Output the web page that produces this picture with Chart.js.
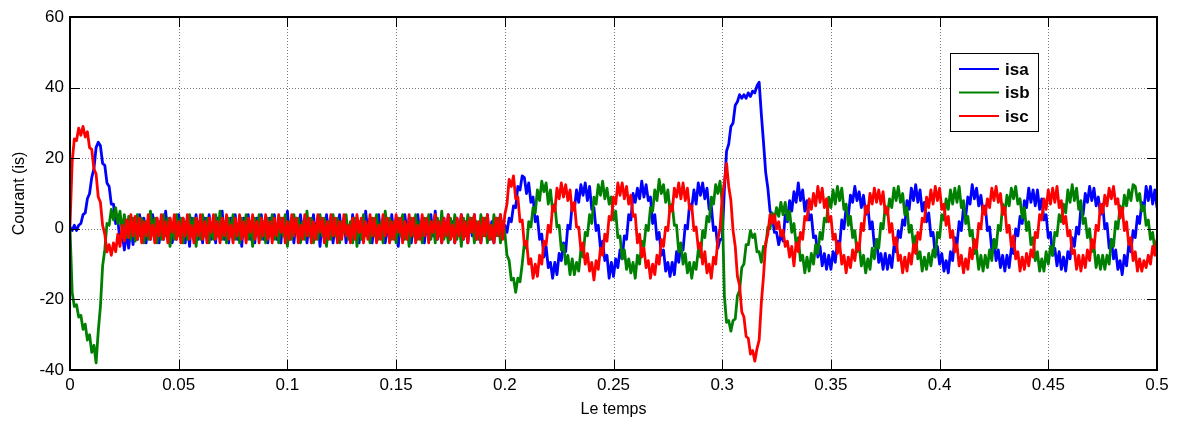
<!DOCTYPE html>
<html>
<head>
<meta charset="utf-8">
<title>Courants de source isa, isb, isc</title>
<script src="https://cdn.jsdelivr.net/npm/chart.js@4/dist/chart.umd.min.js"></script>
<style>
  html, body { margin: 0; padding: 0; background: #ffffff; }
  #chart { display: block; }
</style>
</head>
<body>
<canvas id="chart" width="1177" height="421"></canvas>
<script>
// Sampling period of the three current records (seconds)
const timeStep = 0.001;

const seriesNames = ['isa', 'isb', 'isc'];
const seriesColors = ['#0000ff', '#008000', '#ff0000'];

const xTickValues = [0, 0.05, 0.1, 0.15, 0.2, 0.25, 0.3, 0.35, 0.4, 0.45, 0.5];
const xTickLabels = ['0', '0.05', '0.1', '0.15', '0.2', '0.25', '0.3', '0.35', '0.4', '0.45', '0.5'];
const yTickValues = [-40, -20, 0, 20, 40, 60];
const yTickLabels = ['-40', '-20', '0', '20', '40', '60'];

const xTitle = 'Le temps';
const yTitle = 'Courant (is)';

// Phase a current, one value per millisecond from 0 to 0.5 s
const isa = [
  0.5, -0.5, 1, -0.5, 1, 1.5, 4, 4.5, 8.5, 10,
  14.5, 17, 23, 24.5, 23.5, 18.5, 18, 13, 12, 7,
  7, 1.5, 2.5, -3.5, -1, -6, -1, -5.5, 0.5, -4.5, 2,
  -3, 4, -2, 3, -4, 2, -3, 4, -1, 3,
  -4, 2, -3, 5, -2, 3, -4, 1, -3, 4,
  -2, 3, -4, 2, -5, 3, -1, 4, -3, 2,
  -4, 3, -2, 4, -3, 1, -4, 3, -2, 5,
  -3, 2, -4, 3, -1, 4, -3, 2, -5, 3,
  -2, 4, -3, 1, -4, 3, -2, 4, -3, 2,
  -4, 3, -1, 4, -3, 2, -4, 3, -2, 5,
  -3, 2, -4, 3, -2, 4, -1, 3, -4, 2,
  -3, 4, -2, 3, -5, 2, -3, 4, -1, 3,
  -4, 2, -3, 4, -2, 3, -4, 1, -3, 4,
  -2, 3, -4, 2, -3, 5, -1, 3, -4, 2,
  -3, 4, -2, 3, -4, 1, -3, 4, -2, 3,
  -5, 2, -3, 4, -1, 3, -4, 2, -3, 4,
  -2, 3, -4, 2, -3, 4, -2, 5, -3, 1,
  -4, 3, -2, 4, -3, 2, -4, 3, -1, 4,
  -3, 2, -4, 3, -2, 4, -3, 1, -4, 3,
  -2, 4, -3, 2, -4, 3, -1, 4, -2,
  1, -1, 3, 2, 6.5, 6, 12, 11, 15,
  14.5, 10, 13, 7.5, 9, 2, 3.5, -3, -1.5, -8, -5,
  -11, -9.5, -14, -9.5, -13, -7, -9, -4, -6.5, 1,
  0, 7, 5.5, 11, 7.5, 12.5, 9.5, 13, 8, 12,
  5.5, 6, -0.5, 1, -5.5, -3.5, -9, -7.5, -14, -9.5,
  -13.5, -8.5, -11, -6, -8.5, -2, -3, 4, 2.5, 10,
  7.5, 11.5, 8.5, 13.5, 9, 12.5, 8, 9, 1.5, 4,
  -3, -1, -7.5, -6, -12, -9.5, -13.5, -9.5, -13, -6.5,
  -9.5, -4.5, -6, 1, 0, 7, 6, 11, 7, 13,
  9.5, 13, 8.5, 11.5, 5.5, 6.5, -0.5, 0.5, -5.5, -3,
  -3, 11, 22, 24, 29, 30, 35, 36, 38, 37,
  38, 37, 38.5, 37.5, 39, 38.5, 40.5, 41.5, 32.5, 24.5,
  16, 11.5, 5, 4, -1, -1, -4.5, -1.5, -3.5,
  4, 2, 8, 5, 10.5, 7.5, 13, 8, 11, 5, 8,
  2.5, 4, -2.5, -2, -8, -5, -10.5, -7, -11.5, -7.5,
  -11.5, -6.5, -9.5, -3.5, -5, 2.5, 0, 6, 3.5, 9.5,
  7.5, 12, 8, 10.5, 6, 9.5, 4, 6.5, 0, 2,
  -5, -3, -9.5, -7, -11.5, -7, -11.5, -7.5, -11, -5,
  -6.5, -0.5, -2.5, 2.5, 1, 8, 5.5, 11.5, 8, 12.5,
  7.5, 11, 5, 7.5, 2, 4.5, -2, -1, -7.5, -5,
  -10, -7, -12, -9, -12.5, -6.5, -9, -2.5, -4.5, 2,
  -0.5, 6, 3.5, 9, 7, 12.5, 8.5, 11.5, 6.5, 9.5,
  4.5, 6.5, -0.5, 0.5, -6, -3, -9, -6, -11, -7.5,
  -12, -7.5, -11, -5.5, -7, 0, -2, 3.5, 1.5, 8,
  6, 11.5, 7.5, 11, 6.5, 11, 5.5, 8.5, 2.5, 4,
  -2.5, -1, -7.5, -5.5, -10.5, -6.5, -11.5, -8, -12, -6.5,
  -8.5, -2.5, -5, 0.5, -1.5, 6, 4, 10, 7.5, 12,
  8, 11.5, 6.5, 9, 4, 7, 0, 1.5, -5.5, -3,
  -8.5, -6, -11.5, -9, -13, -7.5, -10.5, -4.5, -6.5, -0.5,
  -2.5, 3.5, 1.5, 7.5, 5.5, 12, 8, 12, 7, 11, 6
];

// Phase b current
const isb = [
  0, -18, -22, -21.5, -25, -24.5, -28.5, -27, -31.5, -30,
  -35, -33, -38, -29, -22, -10.5, -6, 1.5, 1, 5.5,
  2.5, 6, 1.5, 5, -1, 4, -2.5, 3.5, -3, 3, -3.5,
  4, -2, 3, -4, 2, -3, 5, -1, 3, -4,
  2, -3, 4, -2, 3, -5, 1, -3, 4, -2,
  3, -4, 2, -3, 4, -1, 3, -5, 2, -3,
  4, -2, 3, -4, 1, -3, 4, -2, 5, -3,
  2, -4, 3, -2, 4, -3, 1, -4, 3, -2,
  4, -3, 2, -5, 3, -1, 4, -3, 2, -4,
  3, -2, 4, -3, 1, -4, 3, -2, 4, -5,
  2, -3, 4, -1, 3, -4, 2, -3, 5, -2,
  3, -4, 1, -3, 4, -2, 3, -5, 2, -3,
  4, -2, 3, -4, 2, -1, 4, -3, 2, -4,
  3, -5, 2, -3, 4, -2, 1, -4, 3, -2,
  4, -3, 2, -4, 5, -1, 3, -3, 2, -4,
  3, -2, 4, -3, 1, -5, 3, -2, 4, -3,
  2, -4, 3, -1, 4, -3, 2, -4, 3, -2,
  5, -3, 1, -4, 3, -2, 4, -3, 2, -5,
  3, -2, 4, -1, 3, -4, 2, -3, 4, -2,
  3, -4, 1, -3, 4, -2, 3, -4, 2,
  -1, -7.5, -9, -14.5, -14, -18, -14, -15,
  -10, -4, -5.5, 2, 0.5, 6, 4.5, 11, 8, 13.5, 10.5, 13,
  7, 11, 5, 7, 0.5, 1, -6, -4.5, -10, -7.5,
  -13, -8.5, -13, -9.5, -12, -6, -8, -1, -2, 4,
  1.5, 9, 7, 12.5, 9.5, 13.5, 8.5, 11.5, 7, 9,
  2.5, 5, -2.5, -2, -8.5, -6, -11.5, -8.5, -12.5, -9.5,
  -14, -7.5, -10, -3.5, -5, 1, -0.5, 6, 5, 11,
  8, 14, 10, 12.5, 7.5, 11, 5, 7, 1, 1,
  -6.5, -4, -10, -7, -12.5, -9.5, -14, -9.5, -11.5, -6,
  -8, -0.5, -2.5, 3.5, 2, 9, 7, 12.5, 10, 13.5,
  7.5, -19, -26.5, -26, -29, -26, -25.5, -19, -17.5, -11,
  -10, -4.5, -4.5, -0.5, -2.5, -1.5, -6.5, -6.5, -9.5, -5,
  -5, 0.5, 0, 4.5, 2.5, 6, 3.5, 7.5, 4, 7.5, 2.5, 5, -1,
  1.5, -4.5, -2.5, -9, -7.5, -12.5, -8, -12, -7, -10,
  -4.5, -7, -1, -3, 3, 2, 9, 6, 11, 7,
  12, 8, 11.5, 5.5, 7, 1, 3.5, -2.5, -0.5, -6.5,
  -4.5, -10.5, -7.5, -12.5, -8.5, -11.5, -5.5, -8.5, -3, -5.5,
  1.5, 0, 6.5, 4, 8.5, 6, 11.5, 8, 12, 7.5,
  10, 4, 6, -1, 1, -5, -2, -8.5, -6.5, -12,
  -8, -11.5, -7, -10.5, -6, -8, -1, -2.5, 4, 2.5,
  8.5, 5.5, 11, 7, 11.5, 7.5, 12, 6, 8, 1.5,
  3.5, -2, -0.5, -7, -6, -11.5, -7.5, -12, -7.5, -11,
  -6, -9, -3, -5.5, 1, -0.5, 7, 4.5, 9.5, 6.5,
  11.5, 8.5, 12, 7, 8.5, 3, 6, -0.5, 2, -4.5,
  -2.5, -9, -6.5, -12, -8.5, -12, -6.5, -10, -5, -7.5,
  -1, -2, 4, 2, 7, 4.5, 11, 7.5, 12.5, 8,
  11.5, 5.5, 8, 1.5, 3, -2.5, 0, -6.5, -5, -11,
  -7.5, -11.5, -7.5, -11.5, -7.5, -10, -3, -5, 2, 0,
  6.5, 4, 9.5, 6.5, 11, 8, 12.5,
  12, 8, 10, 5, 6.5, 1, 2.5, -3, -1, -6, -3.5
];

// Phase c current
const isc = [
  1, 19, 25.5, 25, 28.5, 26.5, 29, 26, 27.5, 23,
  22.5, 17, 15.5, 9, 7.5, 1, -1.5, -6.5, -4.5, -7.5,
  -4, -6.5, -1.5, -5, 1, -3.5, 2.5, -2.5, 4, -2, 3.5,
  -3, 3, -4, 2, -2, 4, -3, 1, -4, 3,
  -2, 4, -3, 2, -4, 3, -1, 4, -3, 2,
  -4, 3, -2, 4, -3, 1, -4, 3, -2, 4,
  -3, 2, -4, 3, -1, 4, -3, 2, -4, 3,
  -2, 4, -3, 1, -4, 3, -2, 4, -3, 2,
  -4, 3, -1, 4, -3, 2, -4, 3, -2, 4,
  -3, 2, -4, 3, -2, 4, -1, 3, -4, 2,
  -3, 4, -2, 3, -4, 1, -3, 4, -2, 3,
  -4, 2, -3, 4, -1, 3, -4, 2, -3, 4,
  -2, 3, -4, 2, -3, 4, -2, 1, -4, 3,
  -3, 4, -1, 3, -4, 2, -3, 4, -2, 3,
  -4, 1, -3, 4, -2, 3, -4, 2, -3, 4,
  -1, 3, -4, 2, -3, 4, -2, 3, -4, 1,
  -3, 4, -2, 3, -4, 2, -1, 4, -3, 2,
  -4, 3, -2, 4, -3, 1, -4, 3, -2, 4,
  -3, 2, -4, 3, -1, 4, -3, 2, -4, 3,
  -2, 4, -3, 1, -4, 3, -2, 4, -3,
  4, 7, 14, 12, 15, 8.5, 9, 2, 2.5, -4.5, -3.5, -10, -8.5, -14, -10,
  -13.5, -7.5, -10, -3.5, -4.5, 1, -1, 6.5, 5, 11.5,
  8.5, 13, 9, 12.5, 8, 11, 5, 7.5, 0.5, 0.5,
  -6, -4, -10, -7, -12, -9.5, -14.5, -9, -11.5, -5.5,
  -7.5, -1.5, -3.5, 3.5, 2.5, 9, 7, 13, 9.5, 13,
  8.5, 12, 7, 9.5, 3.5, 4, -4, -1.5, -8, -5.5,
  -11, -9, -14, -10, -13, -7.5, -10, -3, -5, 0.5,
  -0.5, 6.5, 5, 11.5, 9, 13, 8.5, 13, 8, 11.5,
  5.5, 6.5, -0.5, 0.5, -5.5, -4, -10, -6.5, -12.5, -10,
  -14, -8, -10, -3, 0,
  9, 13, 18.5, 12, 8, -0.5, -5, -13.5, -16, -23.5,
  -25, -30.5, -31, -35.5, -34.5, -37.5, -34, -31.5, -21, -13.5,
  -4, -1.5, 4, 1.5, 4, 0, 2, -2, -0.5, -5, -3.5, -8, -5,
  -10.5, -4, -6.5, -1, -3, 3.5, 2.5, 8.5, 5.5, 10,
  6.5, 12, 7.5, 11.5, 6, 8.5, 2, 3.5, -3, -1.5,
  -7, -4, -10, -7.5, -12.5, -8, -11, -6, -9, -4,
  -6, 1.5, -0.5, 6.5, 4.5, 10, 7, 11.5, 7.5, 11,
  7, 10.5, 4.5, 6, -1, 1.5, -4.5, -2.5, -9, -7.5,
  -12.5, -8, -12, -7, -10, -4.5, -7, -1, -3, 3,
  2, 9, 6, 11, 7, 12, 8, 11.5, 5.5, 7,
  1, 3.5, -2.5, -0.5, -6.5, -4.5, -10.5, -7.5, -12.5, -8.5,
  -11.5, -5.5, -8.5, -3, -5.5, 1.5, 0, 6.5, 4, 8.5,
  6, 11.5, 8, 12, 7.5, 10, 4, 6, -1, 1,
  -5, -2, -8.5, -6.5, -12, -8, -11.5, -7, -10.5, -6,
  -8, -1, -2.5, 4, 2.5, 8.5, 5.5, 11, 7, 11.5,
  7.5, 12, 6, 8, 1.5, 3.5, -2, -0.5, -7, -6,
  -11.5, -7.5, -12, -7.5, -11, -6, -9, -3, -5.5, 1,
  -0.5, 7, 4.5, 9.5, 6.5, 11.5, 8.5, 12, 7, 8.5,
  3, 6, -0.5, 2, -4.5, -2.5, -9, -6.5, -12, -8.5, -12,
  -9, -11, -7.5, -10, -5, -7.5, -3
];

const seriesValues = [isa, isb, isc];

const fontFamily = "'Liberation Sans', Arial, Helvetica, sans-serif";

function toPoints(values) {
  return values.map((v, i) => ({ x: i * timeStep, y: v }));
}

// Dotted grid under the traces, box, inward ticks and legend above them
const axesDecor = {
  id: 'axesDecor',
  beforeDatasetsDraw(chart) {
    const { ctx, chartArea: a, scales: { x, y } } = chart;
    ctx.save();
    ctx.strokeStyle = '#7a7a7a';
    ctx.lineWidth = 1;
    ctx.setLineDash([1, 2]);
    ctx.beginPath();
    xTickValues.forEach(v => {
      const px = Math.round(x.getPixelForValue(v)) + 0.5;
      ctx.moveTo(px, a.top);
      ctx.lineTo(px, a.bottom);
    });
    yTickValues.forEach(v => {
      const py = Math.round(y.getPixelForValue(v)) + 0.5;
      ctx.moveTo(a.left, py);
      ctx.lineTo(a.right, py);
    });
    ctx.stroke();
    ctx.restore();
  },
  afterDatasetsDraw(chart) {
    const { ctx, chartArea: a, scales: { x, y } } = chart;
    const tickLen = 10;
    ctx.save();
    ctx.strokeStyle = '#000000';
    ctx.lineWidth = 1;
    ctx.beginPath();
    xTickValues.forEach(v => {
      const px = Math.round(x.getPixelForValue(v)) + 0.5;
      ctx.moveTo(px, a.bottom);
      ctx.lineTo(px, a.bottom - tickLen);
      ctx.moveTo(px, a.top);
      ctx.lineTo(px, a.top + tickLen);
    });
    yTickValues.forEach(v => {
      const py = Math.round(y.getPixelForValue(v)) + 0.5;
      ctx.moveTo(a.left, py);
      ctx.lineTo(a.left + tickLen, py);
      ctx.moveTo(a.right, py);
      ctx.lineTo(a.right - tickLen, py);
    });
    ctx.stroke();

    ctx.lineWidth = 2;
    ctx.strokeRect(a.left, a.top, a.right - a.left, a.bottom - a.top);

    // legend box
    const boxLeft = a.right - 207;
    const boxTop = a.top + 36;
    const boxW = 88;
    const boxH = 78;
    ctx.fillStyle = '#ffffff';
    ctx.fillRect(boxLeft, boxTop, boxW, boxH);
    ctx.lineWidth = 1;
    ctx.strokeRect(boxLeft + 0.5, boxTop + 0.5, boxW, boxH);
    ctx.font = 'bold 17px ' + fontFamily;
    ctx.textAlign = 'left';
    ctx.textBaseline = 'middle';
    seriesNames.forEach((name, i) => {
      const rowY = boxTop + 16 + i * 23.5;
      ctx.strokeStyle = seriesColors[i];
      ctx.lineWidth = 2;
      ctx.beginPath();
      ctx.moveTo(boxLeft + 9, rowY);
      ctx.lineTo(boxLeft + 49, rowY);
      ctx.stroke();
      ctx.fillStyle = '#000000';
      ctx.fillText(name, boxLeft + 55, rowY + 1);
    });
    ctx.restore();
  }
};

const datasets = seriesNames.map((name, i) => ({
  label: name,
  data: toPoints(seriesValues[i]),
  borderColor: seriesColors[i],
  backgroundColor: seriesColors[i],
  borderWidth: 2.8,
  borderJoinStyle: 'round',
  borderCapStyle: 'round',
  pointRadius: 0,
  tension: 0,
  fill: false,
  order: seriesNames.length - 1 - i
}));

new Chart(document.getElementById('chart'), {
  type: 'line',
  data: { datasets },
  plugins: [axesDecor],
  options: {
    responsive: false,
    animation: false,
    devicePixelRatio: 1,
    parsing: false,
    normalized: true,
    layout: { padding: { top: 17, right: 20, bottom: 0, left: 0 } },
    plugins: {
      legend: { display: false },
      tooltip: { enabled: false }
    },
    scales: {
      x: {
        type: 'linear',
        min: 0,
        max: 0.5,
        grid: { display: false, drawTicks: false },
        border: { display: false },
        afterBuildTicks: scale => { scale.ticks = xTickValues.map(v => ({ value: v })); },
        afterFit: scale => { scale.height = 51; },
        ticks: {
          autoSkip: false,
          maxRotation: 0,
          padding: 5,
          color: '#000000',
          font: { family: fontFamily, size: 17 },
          callback: (value, index) => xTickLabels[index]
        },
        title: {
          display: true,
          text: xTitle,
          color: '#000000',
          font: { family: fontFamily, size: 16 },
          padding: { top: 0, bottom: 2 }
        }
      },
      y: {
        type: 'linear',
        min: -40,
        max: 60,
        grid: { display: false, drawTicks: false },
        border: { display: false },
        afterBuildTicks: scale => { scale.ticks = yTickValues.map(v => ({ value: v })); },
        afterFit: scale => { scale.width = 70; },
        ticks: {
          autoSkip: false,
          padding: 6,
          color: '#000000',
          font: { family: fontFamily, size: 17 },
          callback: (value, index) => yTickLabels[index]
        },
        title: {
          display: true,
          text: yTitle,
          color: '#000000',
          font: { family: fontFamily, size: 16 },
          padding: { top: 10, bottom: 0 }
        }
      }
    }
  }
});
</script>
</body>
</html>
